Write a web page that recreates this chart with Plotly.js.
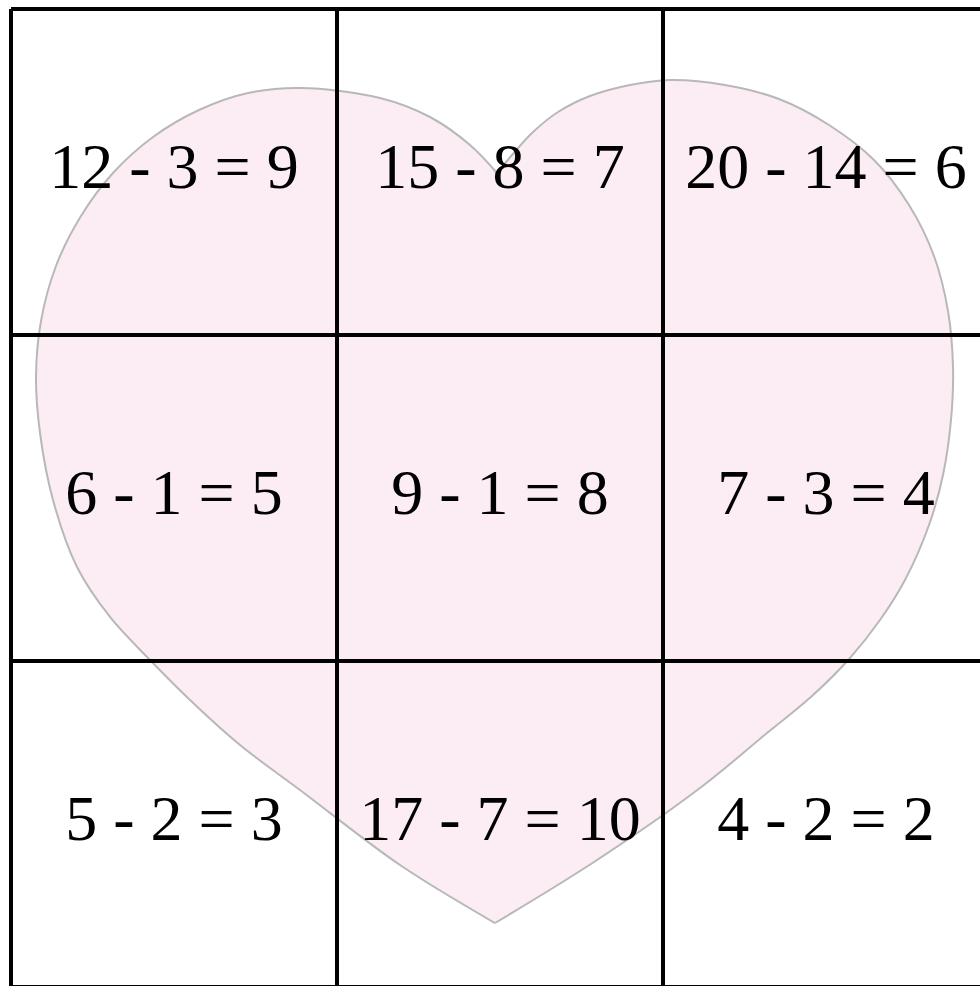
<!DOCTYPE html>
<html>
<head>
<meta charset="utf-8">
<script src="https://cdn.plot.ly/plotly-3.0.1.min.js"></script>
<style>
html,body{margin:0;padding:0;background:#fff;}
#chart{width:980px;height:986px;}
#chart path.js-fill{shape-rendering:crispEdges;}
</style>
</head>
<body>
<div id="chart"></div>
<script>
// Grid of subtraction facts (row-major, 3 x 3)
const minuends    = [12, 15, 20, 6, 9, 7, 5, 17, 4];
const subtrahends = [3, 8, 14, 1, 1, 3, 2, 7, 2];
const differences = [9, 7, 6, 5, 8, 4, 3, 10, 2];
const nCols = 3;
const nRows = 3;

// Heart outline, in cell units (x: columns, y: rows from the top)
// left half: from the top cusp over the left lobe down to the bottom tip
const heartLeftX = [1.4908, 1.4080, 1.2853, 1.1319, 0.8865, 0.7270, 0.5767, 0.4356, 0.3129, 0.2147, 0.1380, 0.0920, 0.0767, 0.0890, 0.1288, 0.2025, 0.3037, 0.4264, 0.5491, 0.7025, 0.8865, 1.1933, 1.4847];
const heartLeftY = [0.5031, 0.4172, 0.3313, 0.2730, 0.2423, 0.2577, 0.3098, 0.3926, 0.5031, 0.6350, 0.7883, 0.9571, 1.1288, 1.3006, 1.5061, 1.7117, 1.8650, 1.9969, 2.1196, 2.2577, 2.3957, 2.6258, 2.8037];
// right half: from the top cusp over the right lobe down to the bottom tip
const heartRightX = [1.4908, 1.5368, 1.5982, 1.6779, 1.7761, 1.8988, 2.0215, 2.1902, 2.3558, 2.5092, 2.6472, 2.7546, 2.8313, 2.8742, 2.8896, 2.8834, 2.8589, 2.8160, 2.7423, 2.6656, 2.5736, 2.4571, 2.3190, 2.1135, 1.7883, 1.4847];
const heartRightY = [0.5031, 0.4479, 0.3804, 0.3160, 0.2669, 0.2331, 0.2178, 0.2331, 0.2761, 0.3558, 0.4632, 0.6012, 0.7577, 0.9264, 1.0982, 1.2607, 1.4294, 1.5828, 1.7515, 1.8742, 1.9908, 2.1074, 2.2209, 2.3896, 2.6166, 2.8037];

const labels = minuends.map((a, i) => a + ' - ' + subtrahends[i] + ' = ' + differences[i]);
const labelX = labels.map((_, i) => (i % nCols) + 0.5);
const labelY = labels.map((_, i) => Math.floor(i / nCols) + 0.5);

const heartFill = 'rgb(251,237,243)';
const heartLine = 'rgb(184,184,184)';

function heartFillTrace(x, y) {
  return {x: x, y: y, mode: 'lines', fill: 'toself', fillcolor: heartFill,
          line: {color: 'rgba(0,0,0,0)', width: 0, shape: 'spline', smoothing: 1},
          hoverinfo: 'skip', showlegend: false};
}
function heartLineTrace(x, y) {
  return {x: x, y: y, mode: 'lines', line: {color: heartLine, width: 2, shape: 'spline', smoothing: 1},
          hoverinfo: 'skip', showlegend: false};
}

const traces = [
  heartFillTrace(heartLeftX, heartLeftY),
  heartFillTrace(heartRightX, heartRightY),
  heartLineTrace(heartLeftX, heartLeftY),
  heartLineTrace(heartRightX, heartRightY),
  {x: labelX, y: labelY, mode: 'text', text: labels, textposition: 'middle center',
   textfont: {family: 'Liberation Serif, Times New Roman, serif', size: 64, color: '#000'},
   hoverinfo: 'skip', showlegend: false}
];

const shapes = [];
for (let c = 0; c <= nCols; c++) {
  shapes.push({type: 'line', xref: 'x', yref: 'y', x0: c, x1: c, y0: 0, y1: nRows,
               line: {color: '#000', width: 4}, layer: 'above'});
}
for (let r = 0; r <= nRows; r++) {
  shapes.push({type: 'line', xref: 'x', yref: 'y', x0: 0, x1: nCols, y0: r, y1: r,
               line: {color: '#000', width: 4}, layer: 'above'});
}

const layout = {
  width: 980, height: 986,
  margin: {l: 0, r: 0, t: 0, b: 0, pad: 0},
  paper_bgcolor: '#fff', plot_bgcolor: '#fff',
  showlegend: false,
  xaxis: {range: [-0.03374, 2.97239], visible: false, showgrid: false, zeroline: false, fixedrange: true},
  yaxis: {range: [2.99693, -0.02761], visible: false, showgrid: false, zeroline: false, fixedrange: true},
  shapes: shapes
};

Plotly.newPlot('chart', traces, layout, {displayModeBar: false, staticPlot: true});
</script>
</body>
</html>
